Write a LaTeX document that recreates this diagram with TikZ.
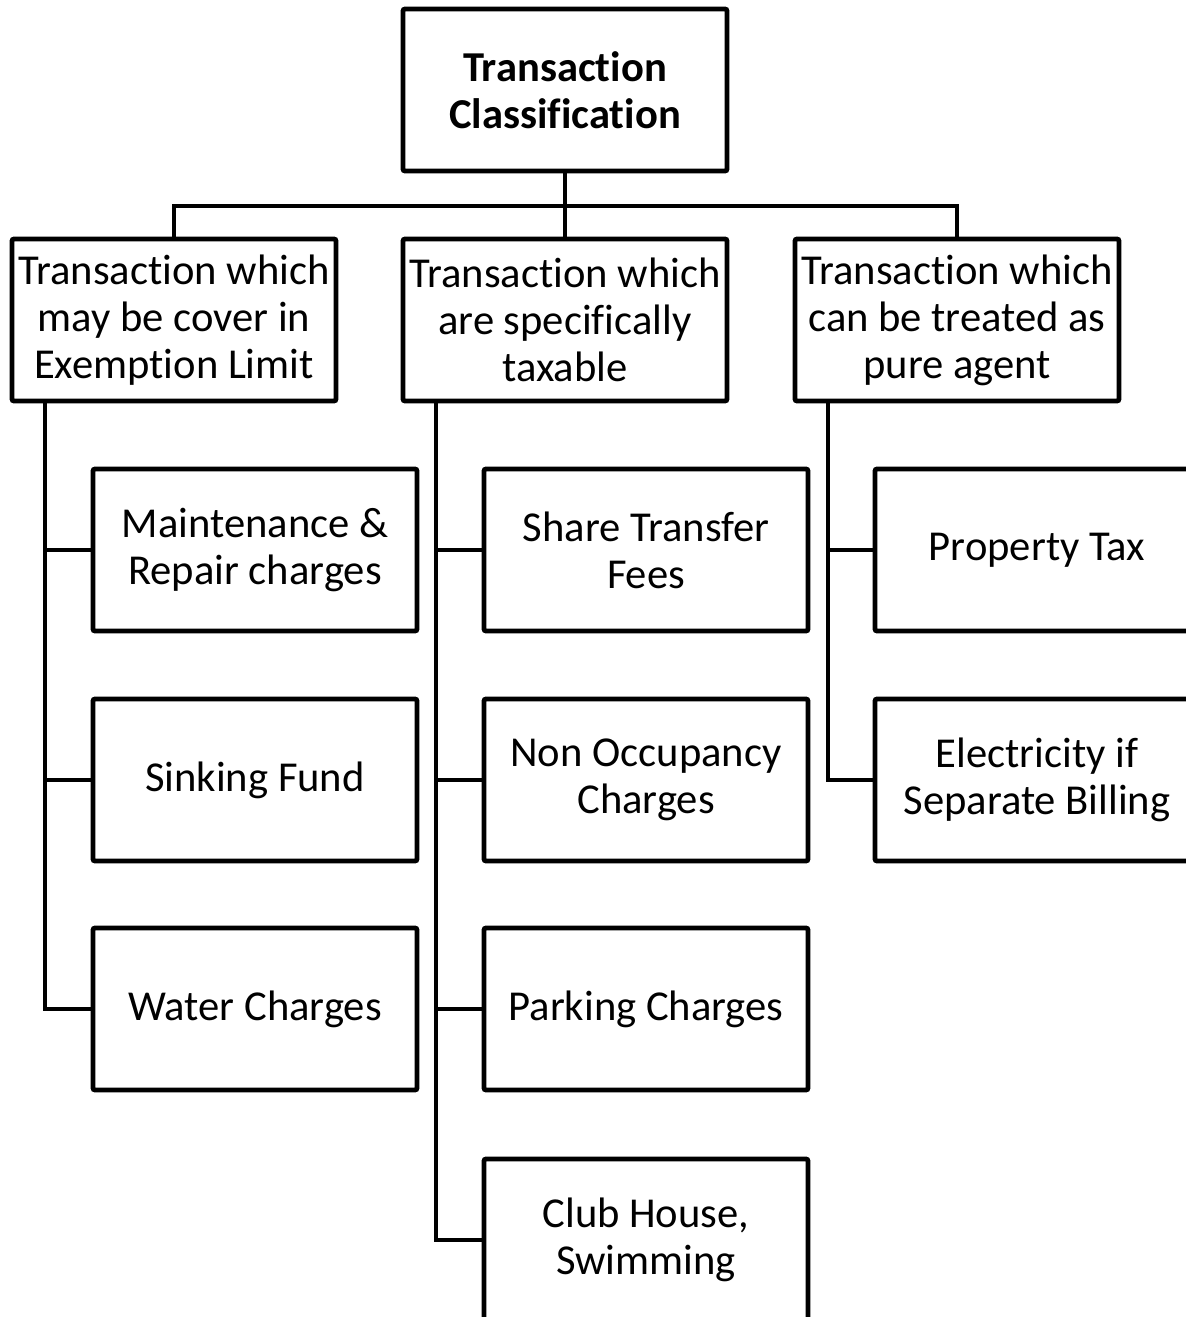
\documentclass[tikz,border=0pt]{standalone}
\usepackage{fontspec}
\setmainfont{Carlito}[Ligatures=NoCommon]
\usetikzlibrary{positioning}

\tikzset{
  box/.style={draw, line width=2.4pt, rounded corners=1pt, align=center, inner sep=0pt,
    minimum width=162pt, minimum height=81pt,
    font=\fontsize{21.3}{23.5}\selectfont},
  link/.style={line width=2.4pt}
}

\begin{document}
\begin{tikzpicture}[x=0.5pt,y=-0.5pt]
  \clip (0,0) rectangle (1186,1317);

  \node[box, font=\fontsize{21.3}{23.5}\selectfont\bfseries] (root) at (565,90) {Transaction\\Classification};
  \node[box] (exempt) at (174,320) {Transaction which\\may be cover in\\Exemption Limit};
  \node[box] (taxable) at (565,320) {Transaction which\\are specifically\\taxable};
  \node[box] (agent) at (957,320) {Transaction which\\can be treated as\\pure agent};

  \coordinate (split) at (565,206);
  \draw[link] (root) -- (split);
  \foreach \n in {exempt, taxable, agent}
    \draw[link] (split) -| (\n.north);

  \coordinate (exemptbus) at (45,402);
  \coordinate (taxablebus) at (436,402);
  \coordinate (agentbus) at (828,402);

  \foreach \y/\n/\t in {550/maint/{Maintenance \&\\Repair charges}, 780/sink/{Sinking Fund}, 1009/water/{Water Charges}}
  {
    \node[box] (\n) at (255,\y) {\t};
    \draw[link] (exemptbus) |- (\n.west);
  }
  \foreach \y/\n/\t in {550/share/{Share Transfer\\Fees}, 780/occup/{Non Occupancy\\Charges}, 1009/park/{Parking Charges}, 1240/club/{Club House,\\Swimming}}
  {
    \node[box] (\n) at (646,\y) {\t};
    \draw[link] (taxablebus) |- (\n.west);
  }
  \foreach \y/\n/\t in {550/prop/{Property Tax}, 780/elec/{Electricity if\\Separate Billing}}
  {
    \node[box] (\n) at (1037,\y) {\t};
    \draw[link] (agentbus) |- (\n.west);
  }
\end{tikzpicture}
\end{document}
